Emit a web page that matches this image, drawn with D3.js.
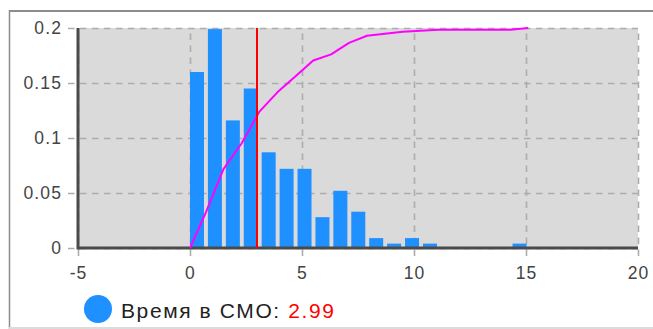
<!DOCTYPE html>
<html>
<head>
<meta charset="utf-8">
<script src="https://cdn.jsdelivr.net/npm/d3@7/dist/d3.min.js"></script>
<style>
  html, body { margin: 0; padding: 0; background: #fff; }
  svg { display: block; }
  text { font-family: "Liberation Sans", Arial, sans-serif; }
</style>
</head>
<body>
<svg id="chart" width="653" height="329"></svg>
<script>
// ---- data ----
const binStarts = [0, 0.8, 1.6, 2.4, 3.2, 4.0, 4.8, 5.6, 6.4, 7.2, 8.0, 8.8, 9.6, 10.4, 11.2, 12.0, 12.8, 13.6, 14.4];
const binFreq   = [0.160, 0.199, 0.116, 0.145, 0.087, 0.072, 0.072, 0.028, 0.052, 0.033, 0.009, 0.004, 0.009, 0.004, 0, 0, 0, 0, 0.004];
const cdfX = [0, 0.7, 1.5, 2.3, 3.1, 3.9, 4.7, 5.5, 6.3, 7.1, 7.9, 8.7, 9.5, 10.3, 11.1, 11.9, 12.7, 13.5, 14.3, 15.1];
const cdfY = [0, 0.032, 0.072, 0.095, 0.124, 0.1415, 0.156, 0.1705, 0.176, 0.1865, 0.193, 0.1948, 0.1966, 0.1975, 0.1984, 0.1984, 0.1984, 0.1984, 0.1984, 0.2];
const meanValue = 2.99;
const xTicks = [-5, 0, 5, 10, 15, 20];
const yTicks = [0, 0.05, 0.1, 0.15, 0.2];
const legendLabel = "Время в СМО: ";

// ---- layout ----
const svg = d3.select("#chart");
const X0 = 78, X1 = 638, Y0 = 248, Y1 = 28;
const x = d3.scaleLinear().domain([-5, 20]).range([X0, X1]);
const y = d3.scaleLinear().domain([0, 0.2]).range([Y0, Y1]);
const barW = x(0.625) - x(0);

// outer frame
svg.append("line").attr("x1", 9).attr("x2", 653).attr("y1", 11).attr("y2", 11)
  .attr("stroke", "#8c8c8c").attr("stroke-width", 2);
svg.append("line").attr("x1", 9.5).attr("x2", 9.5).attr("y1", 10).attr("y2", 329)
  .attr("stroke", "#8c8c8c").attr("stroke-width", 1.5);
svg.append("line").attr("x1", 9).attr("x2", 653).attr("y1", 328).attr("y2", 328)
  .attr("stroke", "#dcdcdc").attr("stroke-width", 2);

// plot background
svg.append("rect").attr("x", X0).attr("y", Y1).attr("width", X1 - X0).attr("height", Y0 - Y1)
  .attr("fill", "#dadada");

// grid via axes
const yAxis = d3.axisLeft(y).tickValues(yTicks).tickSize(-(X1 - X0 + 10)).tickPadding(6)
  .tickFormat(d => String(d));
const gy = svg.append("g").attr("transform", `translate(${X0 - 10},0)`).call(yAxis);
const xAxis = d3.axisBottom(x).tickValues(xTicks).tickSize(-(Y0 - Y1 + 8)).tickPadding(11)
  .tickFormat(d => String(d));
const gx = svg.append("g").attr("transform", `translate(0,${Y0 + 8})`).call(xAxis);

[gy, gx].forEach(g => {
  g.select(".domain").remove();
  g.selectAll(".tick line").attr("stroke", "#acacac").attr("stroke-width", 1.6)
    .attr("stroke-dasharray", "6.5,5.5");
  g.selectAll(".tick text").attr("fill", "#444").attr("font-size", 17.5)
    .style("letter-spacing", "1.1px")
    .attr("font-family", "'Liberation Sans', Arial, sans-serif");
});

// bars
svg.append("g").selectAll("rect").data(binStarts.map((s, i) => ({s, v: binFreq[i]})))
  .join("rect")
  .attr("x", d => x(d.s)).attr("width", barW)
  .attr("y", d => y(d.v)).attr("height", d => y(0) - y(d.v))
  .attr("fill", "#1e90ff");

// axes lines
svg.append("line").attr("x1", X0).attr("x2", X0).attr("y1", Y1).attr("y2", Y0 + 1.5)
  .attr("stroke", "#4a4a4a").attr("stroke-width", 3);
svg.append("line").attr("x1", X0).attr("x2", X1).attr("y1", Y0).attr("y2", Y0)
  .attr("stroke", "#4a4a4a").attr("stroke-width", 3);

// cumulative line
const line = d3.line().x(d => x(d[0])).y(d => y(d[1]));
svg.append("path").datum(cdfX.map((v, i) => [v, cdfY[i]]))
  .attr("d", line).attr("fill", "none").attr("stroke", "#f0f").attr("stroke-width", 2)
  .attr("stroke-linejoin", "round");

// mean line
svg.append("line").attr("x1", x(meanValue)).attr("x2", x(meanValue))
  .attr("y1", y(0.2)).attr("y2", y(0))
  .attr("stroke", "#ff0000").attr("stroke-width", 2);

// legend
svg.append("circle").attr("cx", 98).attr("cy", 309).attr("r", 14).attr("fill", "#1e90ff");
const lt = svg.append("text").attr("x", 121).attr("y", 318)
  .attr("font-size", 21).style("letter-spacing", "1.6px").attr("fill", "#222");
lt.append("tspan").text(legendLabel);
lt.append("tspan").attr("fill", "#ff0000").text(meanValue.toFixed(2));
</script>
</body>
</html>
